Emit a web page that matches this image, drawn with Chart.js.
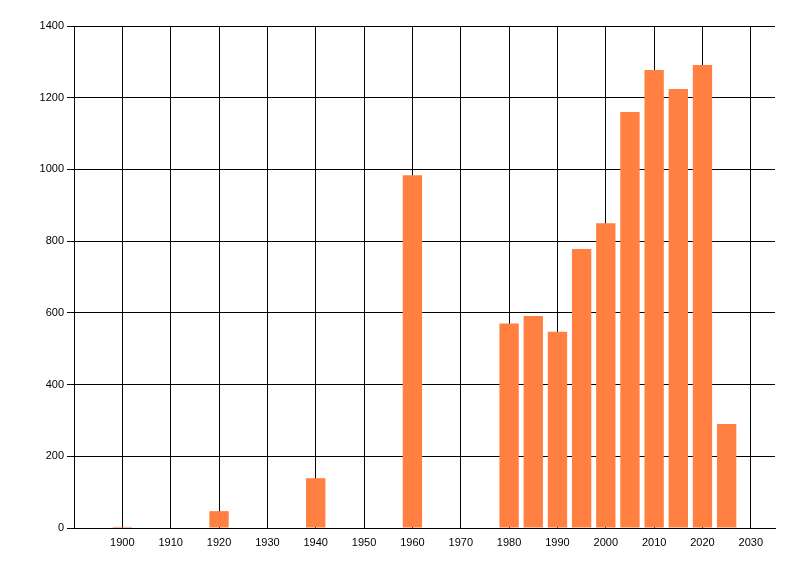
<!DOCTYPE html>
<html>
<head>
<meta charset="utf-8">
<script src="https://cdn.jsdelivr.net/npm/chart.js@4.4.1/dist/chart.umd.min.js"></script>
<style>
  html, body { margin: 0; padding: 0; background: #fff; }
  #wrap { width: 800px; height: 576px; }
</style>
</head>
<body>
<div id="wrap"><canvas id="chart"></canvas></div>
<script>
// data
const years  = [1900, 1920, 1940, 1960, 1980, 1985, 1990, 1995, 2000, 2005, 2010, 2015, 2020, 2025];
const values = [3, 47, 139, 984, 570, 591, 547, 778, 850, 1160, 1277, 1224, 1291, 290];
const xTicks = [1900, 1910, 1920, 1930, 1940, 1950, 1960, 1970, 1980, 1990, 2000, 2010, 2020, 2030];
const yTicks = [0, 200, 400, 600, 800, 1000, 1200, 1400];

const font = { family: '"Liberation Sans", Arial, sans-serif', size: 11 };

new Chart(document.getElementById('chart').getContext('2d'), {
    type: 'bar',
    data: {
        datasets: [{
            data: years.map((y, i) => ({ x: y, y: values[i] })),
            backgroundColor: 'rgb(255, 128, 64)',
            borderWidth: 0,
            categoryPercentage: 1,
            barPercentage: 0.8
        }]
    },
    options: {
        responsive: true,
        maintainAspectRatio: false,
        animation: false,
        layout: { padding: { top: 26, right: 25, left: 0, bottom: 0 } },
        plugins: { legend: { display: false }, tooltip: { enabled: false } },
        scales: {
            x: {
                type: 'linear',
                min: 1890,
                max: 2035,
                offset: false,
                afterBuildTicks: s => { s.ticks = xTicks.map(v => ({ value: v })); },
                afterFit: s => { s.height = 48; },
                grid: { color: '#000', lineWidth: 1, drawTicks: false, offset: false },
                border: { color: '#000', width: 1 },
                ticks: { color: '#000', font: font, padding: 8, maxRotation: 0, autoSkip: false,
                         callback: v => String(v) }
            },
            y: {
                min: 0,
                max: 1400,
                afterBuildTicks: s => { s.ticks = yTicks.map(v => ({ value: v })); },
                afterFit: s => { s.width = 74; },
                grid: { color: '#000', lineWidth: 1, drawTicks: true, tickLength: 7 },
                border: { color: '#000', width: 1 },
                ticks: { color: '#000', font: font, padding: 3, callback: v => String(v) }
            }
        }
    }
});
</script>
</body>
</html>
